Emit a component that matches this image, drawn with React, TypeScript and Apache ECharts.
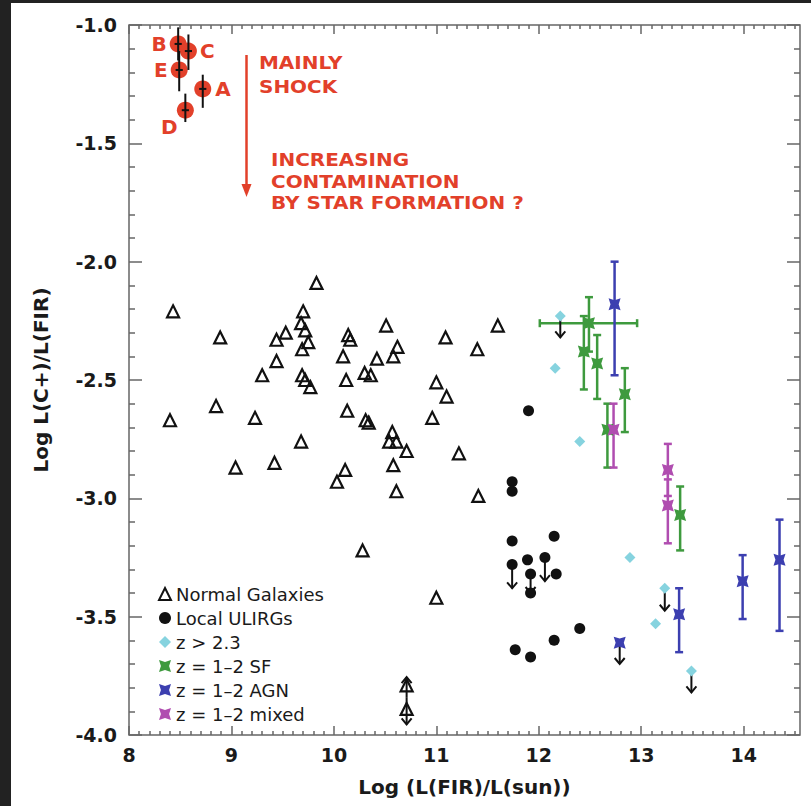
import React, { useEffect, useRef } from 'react';
import * as echarts from 'echarts';

// ---------- tick labels ----------
const X_MAJOR = [8, 9, 10, 11, 12, 13, 14];
const Y_MIN = -4.0;
const Y_MAX = -1.0;
const X_MIN = 8;
const X_MAX = 14.55;

// ---------- data ----------
// Normal galaxies [log LFIR, log L(C+)/L(FIR)]
const normalGalaxies: number[][] = [
  [8.43, -2.21], [8.40, -2.67], [8.85, -2.61], [8.89, -2.32], [9.04, -2.87], [9.23, -2.66],
  [9.30, -2.48], [9.42, -2.85], [9.44, -2.42], [9.44, -2.33], [9.53, -2.30], [9.68, -2.76],
  [9.69, -2.48], [9.69, -2.37], [9.70, -2.21], [9.68, -2.26], [9.72, -2.29], [9.72, -2.50],
  [9.75, -2.34], [9.77, -2.53], [9.83, -2.09], [10.03, -2.93], [10.09, -2.40], [10.11, -2.88],
  [10.12, -2.50], [10.13, -2.63], [10.14, -2.31], [10.16, -2.33], [10.28, -3.22], [10.30, -2.47],
  [10.36, -2.48], [10.31, -2.67], [10.34, -2.68], [10.42, -2.41], [10.51, -2.27], [10.54, -2.76],
  [10.57, -2.72], [10.58, -2.40], [10.58, -2.86], [10.61, -2.97], [10.61, -2.76], [10.62, -2.36],
  [10.71, -2.80], [10.96, -2.66], [11.00, -3.42], [11.00, -2.51], [11.09, -2.32], [11.10, -2.57],
  [11.22, -2.81], [11.40, -2.37], [11.41, -2.99], [11.60, -2.27], [10.71, -3.79], [10.71, -3.89],
];

const localULIRGs: number[][] = [
  [11.90, -2.63], [11.74, -2.93], [11.74, -2.97], [11.74, -3.18], [12.15, -3.16], [11.74, -3.28],
  [11.89, -3.26], [12.06, -3.25], [11.92, -3.32], [11.92, -3.40], [12.17, -3.32], [12.40, -3.55],
  [12.15, -3.60], [11.77, -3.64], [11.92, -3.67],
];

const highZ: number[][] = [
  [12.21, -2.23], [12.16, -2.45], [12.40, -2.76], [12.89, -3.25], [13.23, -3.38], [13.14, -3.53], [13.49, -3.73],
];

// [x, y, yLow, yHigh, xLow, xHigh]
const sfData: number[][] = [
  [12.49, -2.26, -2.38, -2.15, 12.01, 12.96],
  [12.44, -2.38, -2.54, -2.23, 12.44, 12.44],
  [12.57, -2.43, -2.58, -2.31, 12.57, 12.57],
  [12.84, -2.56, -2.72, -2.45, 12.84, 12.84],
  [12.67, -2.71, -2.87, -2.60, 12.67, 12.67],
  [13.38, -3.07, -3.22, -2.95, 13.38, 13.38],
];

const agnData: number[][] = [
  [12.74, -2.18, -2.48, -2.00, 12.74, 12.74],
  [13.37, -3.49, -3.65, -3.38, 13.37, 13.37],
  [13.99, -3.35, -3.51, -3.24, 13.99, 13.99],
  [14.35, -3.26, -3.56, -3.09, 14.35, 14.35],
];
const agnLimit: number[][] = [[12.79, -3.61]];

const mixedData: number[][] = [
  [12.73, -2.71, -2.87, -2.60, 12.73, 12.73],
  [13.26, -2.88, -2.99, -2.77, 13.26, 13.26],
  [13.26, -3.03, -3.19, -2.92, 13.26, 13.26],
];

// shock-dominated sources A-E
const shockLabels = ['B', 'C', 'E', 'A', 'D'];
const shockX = [8.48, 8.58, 8.49, 8.72, 8.55];
const shockY = [-1.08, -1.11, -1.19, -1.27, -1.36];
const shockLow = [-1.15, -1.19, -1.28, -1.35, -1.41];
const shockHigh = [-1.01, -1.04, -1.11, -1.21, -1.29];

// limit arrows [x, yFrom, yTo]
const limitArrows: number[][] = [
  [11.74, -3.28, -3.38], [12.06, -3.25, -3.35], [11.92, -3.32, -3.40],
  [12.21, -2.23, -2.32], [13.23, -3.38, -3.475], [13.49, -3.73, -3.82],
  [12.79, -3.61, -3.70],
  [10.71, -3.84, -3.755], [10.71, -3.84, -3.955],
];

// ---------- styles ----------
const RED = '#e2402a';
const GREEN = '#3e9a3e';
const BLUE = '#3c3fb0';
const MAGENTA = '#b04db0';
const CYAN = '#86d3df';
const AXIS_GREY = '#666';
const FONT = '"DejaVu Sans", sans-serif';
const SF_SYMBOL = 'path://M0,0L5,1.6L10,0L8.4,5L10,10L5,8.4L0,10L1.6,5Z';

const errorRender = (color: string, cap: number, lw: number) => (params: any, api: any) => {
  const x = api.value(0), y = api.value(1), lo = api.value(2), hi = api.value(3);
  const xl = api.value(4), xh = api.value(5);
  const t = api.coord([x, hi]);
  const b = api.coord([x, lo]);
  const st = { stroke: color, lineWidth: lw };
  const children: any[] = [
    { type: 'line', shape: { x1: t[0], y1: t[1], x2: b[0], y2: b[1] }, style: st },
  ];
  if (cap > 0) {
    children.push({ type: 'line', shape: { x1: t[0] - cap, y1: t[1], x2: t[0] + cap, y2: t[1] }, style: st });
    children.push({ type: 'line', shape: { x1: b[0] - cap, y1: b[1], x2: b[0] + cap, y2: b[1] }, style: st });
  }
  if (xl !== xh) {
    const l = api.coord([xl, y]);
    const r = api.coord([xh, y]);
    children.push({ type: 'line', shape: { x1: l[0], y1: l[1], x2: r[0], y2: r[1] }, style: st });
    if (cap > 0) {
      children.push({ type: 'line', shape: { x1: l[0], y1: l[1] - cap, x2: l[0], y2: l[1] + cap }, style: st });
      children.push({ type: 'line', shape: { x1: r[0], y1: r[1] - cap, x2: r[0], y2: r[1] + cap }, style: st });
    }
  }
  return { type: 'group', children };
};

const arrowRender = (params: any, api: any) => {
  const x = api.value(0), y0 = api.value(1), y1 = api.value(2);
  const p0 = api.coord([x, y0]);
  const p1 = api.coord([x, y1]);
  const dir = p1[1] > p0[1] ? 1 : -1;
  const st = { stroke: '#111', lineWidth: 2, fill: 'none' };
  return {
    type: 'group',
    children: [
      { type: 'line', shape: { x1: p0[0], y1: p0[1], x2: p1[0], y2: p1[1] }, style: st },
      {
        type: 'polyline',
        shape: { points: [[p1[0] - 5, p1[1] - dir * 6], [p1[0], p1[1]], [p1[0] + 5, p1[1] - dir * 6]] },
        style: st,
      },
    ],
  };
};

const minorTicks: number[] = [];
for (let i = 1; i < Math.round((X_MAX - X_MIN) * 10); i++) {
  if (i % 10 !== 0) minorTicks.push(Math.round((X_MIN + i * 0.1) * 10) / 10);
}

function buildOption(): any {
  const xBase = { type: 'value', min: X_MIN, max: X_MAX, gridIndex: 0, axisLine: { show: false }, splitLine: { show: false } };
  const yBase = {
    type: 'value', min: Y_MIN, max: Y_MAX, interval: 0.5, axisLine: { show: false }, splitLine: { show: false },
    axisTick: { show: true, inside: true, length: 13, lineStyle: { color: AXIS_GREY, width: 1.5 } },
    minorTick: { show: true, splitNumber: 5, length: 6, lineStyle: { color: AXIS_GREY, width: 1.5 } },
  };
  const shockData = shockLabels.map((n, i) => ({ name: n, value: [shockX[i], shockY[i]] }));
  const labelPos: any[] = [
    { position: 'left', distance: 3 },
    { position: 'right', distance: 3 },
    { position: 'left', distance: 3 },
    { position: 'right', distance: 4 },
    { position: 'bottom', distance: -2, offset: [-16, 0] },
  ];
  const annot = (x: number, y: number, text: string, lh: number) => ({
    type: 'text', x, y, scaleX: 1.11, scaleY: 1,
    style: { text, fill: RED, fontFamily: FONT, fontWeight: 'bold', fontSize: 18, lineHeight: lh, verticalAlign: 'top' },
  });
  return {
    animation: false,
    backgroundColor: '#fff',
    textStyle: { fontFamily: FONT },
    grid: { left: 129, top: 25, right: 11, bottom: 71, show: true, borderColor: AXIS_GREY, borderWidth: 1.5, backgroundColor: 'transparent' },
    xAxis: [
      {
        ...xBase, position: 'bottom',
        name: 'Log (L(FIR)/L(sun))', nameLocation: 'middle', nameGap: 42,
        nameTextStyle: { fontFamily: FONT, fontWeight: 'bold', fontSize: 20, color: '#1a1a1a' },
        axisLabel: { customValues: X_MAJOR, margin: 10, fontFamily: FONT, fontWeight: 'bold', fontSize: 19, color: '#1a1a1a' },
        axisTick: { show: true, inside: true, length: 9, customValues: X_MAJOR, lineStyle: { color: AXIS_GREY, width: 1.5 } },
      },
      {
        ...xBase, position: 'top', axisLabel: { show: false },
        axisTick: { show: true, inside: true, length: 9, customValues: X_MAJOR, lineStyle: { color: AXIS_GREY, width: 1.5 } },
      },
      {
        ...xBase, position: 'bottom', axisLabel: { show: false },
        axisTick: { show: true, inside: true, length: 4, customValues: minorTicks, lineStyle: { color: AXIS_GREY, width: 1.5 } },
      },
      {
        ...xBase, position: 'top', axisLabel: { show: false },
        axisTick: { show: true, inside: true, length: 4, customValues: minorTicks, lineStyle: { color: AXIS_GREY, width: 1.5 } },
      },
    ],
    yAxis: [
      {
        ...yBase, position: 'left',
        name: 'Log L(C+)/L(FIR)', nameLocation: 'middle', nameGap: 78, nameRotate: 90,
        nameTextStyle: { fontFamily: FONT, fontWeight: 'bold', fontSize: 20, color: '#1a1a1a' },
        axisLabel: {
          margin: 12, fontFamily: FONT, fontWeight: 'bold', fontSize: 19, color: '#1a1a1a',
          formatter: (v: number) => v.toFixed(1),
        },
      },
      { ...yBase, position: 'right', axisLabel: { show: false } },
    ],
    legend: {
      orient: 'vertical', left: 153, top: 580, itemWidth: 12, itemHeight: 12, itemGap: 6,
      textStyle: { fontFamily: FONT, fontSize: 18, color: '#1a1a1a' },
      data: [
        { name: 'Normal Galaxies', icon: 'triangle', itemStyle: { color: 'rgba(255,255,255,0)', borderColor: '#111', borderWidth: 2 } },
        { name: 'Local ULIRGs', icon: 'circle' },
        { name: 'z > 2.3', icon: 'diamond' },
        { name: 'z = 1–2 SF', icon: SF_SYMBOL },
        { name: 'z = 1–2 AGN', icon: SF_SYMBOL },
        { name: 'z = 1–2 mixed', icon: SF_SYMBOL },
      ],
    },
    graphic: [
      { type: 'rect', shape: { x: 0, y: 0, width: 811, height: 3 }, style: { fill: '#222' }, z: 100 },
      { type: 'rect', shape: { x: 0, y: 0, width: 11, height: 806 }, style: { fill: '#222' }, z: 100 },
      annot(259, 50, 'MAINLY\nSHOCK', 24),
      annot(271, 149, 'INCREASING\nCONTAMINATION\nBY STAR FORMATION ?', 21.5),
      { type: 'line', shape: { x1: 246.5, y1: 55, x2: 246.5, y2: 186 }, style: { stroke: RED, lineWidth: 2.5 } },
      { type: 'polygon', shape: { points: [[241.5, 184], [251.5, 184], [246.5, 197]] }, style: { fill: RED } },
    ],
    series: [
      {
        name: 'Normal Galaxies', type: 'scatter', symbol: 'triangle', symbolSize: 12, z: 4,
        itemStyle: { color: 'rgba(255,255,255,0)', borderColor: '#111', borderWidth: 2.2, opacity: 1 },
        data: normalGalaxies,
      },
      { name: 'Local ULIRGs', type: 'scatter', symbol: 'circle', symbolSize: 11, z: 4, itemStyle: { color: '#111', opacity: 1 }, data: localULIRGs },
      { name: 'z > 2.3', type: 'scatter', symbol: 'diamond', symbolSize: 11, z: 4, itemStyle: { color: CYAN, opacity: 1 }, data: highZ },
      { type: 'custom', renderItem: errorRender(GREEN, 4, 2.5), z: 3, data: sfData, encode: { x: 0, y: 1 }, silent: true },
      { type: 'custom', renderItem: errorRender(BLUE, 4, 2.5), z: 3, data: agnData, encode: { x: 0, y: 1 }, silent: true },
      { type: 'custom', renderItem: errorRender(MAGENTA, 4, 2.5), z: 3, data: mixedData, encode: { x: 0, y: 1 }, silent: true },
      { name: 'z = 1–2 SF', type: 'scatter', symbol: SF_SYMBOL, symbolSize: 12, z: 4, itemStyle: { color: GREEN, opacity: 1 }, data: sfData.map((d) => [d[0], d[1]]) },
      { name: 'z = 1–2 AGN', type: 'scatter', symbol: SF_SYMBOL, symbolSize: 12, z: 4, itemStyle: { color: BLUE, opacity: 1 }, data: agnData.map((d) => [d[0], d[1]]).concat(agnLimit) },
      { name: 'z = 1–2 mixed', type: 'scatter', symbol: SF_SYMBOL, symbolSize: 12, z: 4, itemStyle: { color: MAGENTA, opacity: 1 }, data: mixedData.map((d) => [d[0], d[1]]) },
      { type: 'custom', renderItem: arrowRender, z: 3, data: limitArrows, encode: { x: 0, y: 1 }, silent: true },
      {
        name: 'shock', type: 'scatter', symbol: 'circle', symbolSize: 17, z: 4, itemStyle: { color: RED, opacity: 1 },
        data: shockData.map((d, i) => ({
          ...d,
          label: { show: true, formatter: '{b}', color: RED, fontFamily: FONT, fontWeight: 'bold', fontSize: 20, ...labelPos[i] },
        })),
      },
      {
        type: 'custom', renderItem: errorRender('#111', 0, 2), z: 5, encode: { x: 0, y: 1 }, silent: true,
        data: shockX.map((x, i) => [x, shockY[i], shockLow[i], shockHigh[i], x - 0.035, x + 0.035]),
      },
    ],
  };
}

export default function App() {
  const ref = useRef<HTMLDivElement>(null);
  useEffect(() => {
    if (!ref.current) return;
    const chart = echarts.init(ref.current, null, { renderer: 'svg' });
    chart.setOption(buildOption());
    return () => chart.dispose();
  }, []);
  return (
    <div
      ref={ref}
      style={{ position: 'fixed', left: 0, top: 0, width: 811, height: 806, background: '#fff' }}
    />
  );
}
